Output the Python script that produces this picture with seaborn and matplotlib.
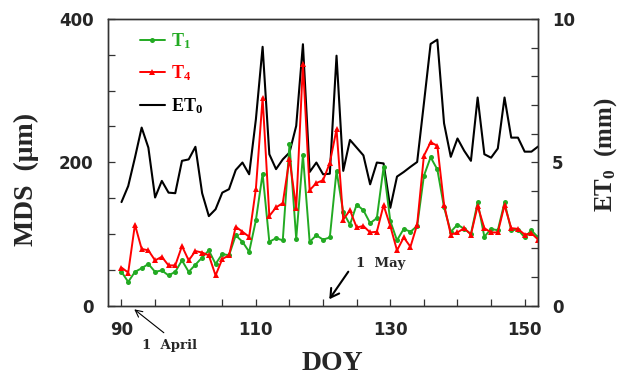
import numpy as np
import pandas as pd
import matplotlib
matplotlib.use("Agg")
import matplotlib.pyplot as plt
from matplotlib.ticker import MultipleLocator, FixedLocator
from matplotlib.font_manager import FontProperties
import seaborn as sns

# ---- data ----
doy = list(range(90, 153))
t1 = [47, 33, 47, 52, 58, 47, 49, 42, 47, 63,
      47, 57, 67, 77, 58, 72, 70, 98, 89, 75,
      119, 184, 89, 94, 91, 225, 93, 210, 89, 98,
      92, 95, 188, 130, 113, 141, 133, 115, 122, 193,
      118, 91, 107, 103, 111, 181, 207, 190, 137, 103,
      113, 107, 100, 144, 96, 107, 105, 144, 105, 106,
      95, 105, 95]
t4 = [53, 46, 113, 79, 77, 63, 68, 56, 56, 83,
      63, 76, 74, 70, 42, 65, 70, 110, 103, 96,
      163, 290, 125, 137, 143, 205, 136, 337, 161, 171,
      175, 199, 246, 120, 133, 109, 111, 102, 103, 140,
      111, 77, 95, 82, 113, 209, 228, 223, 141, 99,
      102, 108, 99, 139, 108, 102, 102, 140, 108, 107,
      99, 101, 92]
et0 = [3.61, 4.17, 5.16, 6.21, 5.51, 3.77, 4.35, 3.94, 3.92, 5.05,
       5.10, 5.54, 3.92, 3.12, 3.36, 3.94, 4.06, 4.73, 4.99, 4.58,
       6.50, 9.03, 5.28, 4.76, 5.10, 5.34, 6.27, 9.12, 4.66, 4.99,
       4.58, 4.60, 8.72, 4.70, 5.78, 5.51, 5.24, 4.23, 4.99, 4.96,
       3.41, 4.50, 4.66, 4.84, 5.01, 7.05, 9.13, 9.28, 6.36, 5.19,
       5.83, 5.40, 5.05, 7.26, 5.28, 5.16, 5.48, 7.26, 5.86, 5.86,
       5.37, 5.37, 5.55]

series_labels = [r"T$_1$", r"T$_4$", r"ET$_0$"]
x_ticks = [90, 110, 130, 150]
mds_ticks = [0, 200, 400]
et_ticks = [0, 5, 10]

df = pd.DataFrame({"DOY": doy, "T1": t1, "T4": t4, "ET0": et0})

# ---- style ----
sns.set_style("ticks")
plt.rcParams["font.family"] = ["DejaVu Sans"]
plt.rcParams["mathtext.fontset"] = "custom"
plt.rcParams["mathtext.rm"] = "Liberation Serif:bold"
plt.rcParams["mathtext.it"] = "Liberation Serif:bold"
plt.rcParams["mathtext.bf"] = "Liberation Serif:bold"

GREEN = "#22aa22"
RED = "#ff0000"
BLACK = "#000000"

fig = plt.figure(figsize=(6.24, 3.75), dpi=100)
ax = fig.add_axes([0.1723, 0.1853, 0.6904, 0.764])
ax2 = ax.twinx()

sns.lineplot(data=df, x="DOY", y="T1", ax=ax, color=GREEN, lw=1.4,
             marker="o", markersize=3.6, markeredgewidth=0, label=series_labels[0])
sns.lineplot(data=df, x="DOY", y="T4", ax=ax, color=RED, lw=1.4,
             marker="^", markersize=4.0, markeredgewidth=0, label=series_labels[1])
sns.lineplot(data=df, x="DOY", y="ET0", ax=ax2, color=BLACK, lw=1.5,
             label=series_labels[2])

ax.set_xlim(87.92, 152.03)
ax.set_ylim(0, 400)
ax2.set_ylim(0, 10)

tickfont = dict(family="DejaVu Sans", weight="bold", size=12)
ax.xaxis.set_major_locator(FixedLocator(x_ticks))
ax.xaxis.set_minor_locator(MultipleLocator(5))
ax.yaxis.set_major_locator(FixedLocator(mds_ticks))
ax.yaxis.set_minor_locator(MultipleLocator(50))
ax2.yaxis.set_major_locator(FixedLocator(et_ticks))
ax2.yaxis.set_minor_locator(MultipleLocator(1))

for a in (ax, ax2):
    a.tick_params(which="both", direction="in", length=5, width=0.9, color="#333333")
ax.tick_params(axis="x", which="major", pad=11)
ax.tick_params(axis="y", which="major", pad=10)
ax2.tick_params(axis="y", which="major", pad=10)
ax.tick_params(top=False, which="both")
ax2.tick_params(top=False, which="both")
for lab in ax.get_xticklabels() + ax.get_yticklabels() + ax2.get_yticklabels():
    lab.set_fontproperties(FontProperties(**tickfont))

for a in (ax, ax2):
    for s in a.spines.values():
        s.set_linewidth(1.0)
        s.set_color("#333333")
        s.set_visible(True)

serif_big = FontProperties(family="Liberation Serif", weight="bold", size=20)
serif_right = FontProperties(family="Liberation Serif", weight="bold", size=18)
ax.set_xlabel("DOY", fontproperties=serif_big)
ax.set_ylabel("MDS  (\u03bcm)", fontproperties=serif_big)
ax2.set_ylabel(r"ET$_0$  (mm)", fontproperties=serif_right)
ax.xaxis.set_label_coords(0.523, -0.16)
ax.yaxis.set_label_coords(-0.158, 0.44)
ax2.yaxis.set_label_coords(1.124, 0.527)

# legend
if ax.get_legend():
    ax.get_legend().remove()
if ax2.get_legend():
    ax2.get_legend().remove()
h1, l1 = ax.get_legend_handles_labels()
h2, l2 = ax2.get_legend_handles_labels()
leg = ax.legend(h1 + h2, l1 + l2, loc="upper left", bbox_to_anchor=(0.055, 0.99),
                frameon=False, borderpad=0, handlelength=1.35, handletextpad=0.35,
                labelspacing=0.72,
                prop=FontProperties(family="Liberation Serif", weight="bold", size=13),
                labelcolor=[GREEN, RED, BLACK])
ax.set_zorder(ax2.get_zorder() + 1)
ax.patch.set_visible(False)

# annotations
ann_font = dict(family="DejaVu Serif", weight="bold", size=9.5)
ax.annotate("", xy=(91.9, -5.3), xytext=(96.3, -38),
            arrowprops=dict(arrowstyle="->,head_length=0.5,head_width=0.25", lw=0.8, color="black",
                            shrinkA=0, shrinkB=0),
            annotation_clip=False)
ax.text(97.2, -56.5, "1  April", ha="center", va="center", **ann_font)
ax.annotate("", xy=(120.92, 8.7), xytext=(123.75, 47.2),
            arrowprops=dict(arrowstyle="->,head_length=0.6,head_width=0.35", lw=1.5, color="black",
                            shrinkA=0, shrinkB=0),
            annotation_clip=False)
ax.text(128.6, 58, "1  May", ha="center", va="center", **ann_font)

fig.savefig("out.png", dpi=100)
